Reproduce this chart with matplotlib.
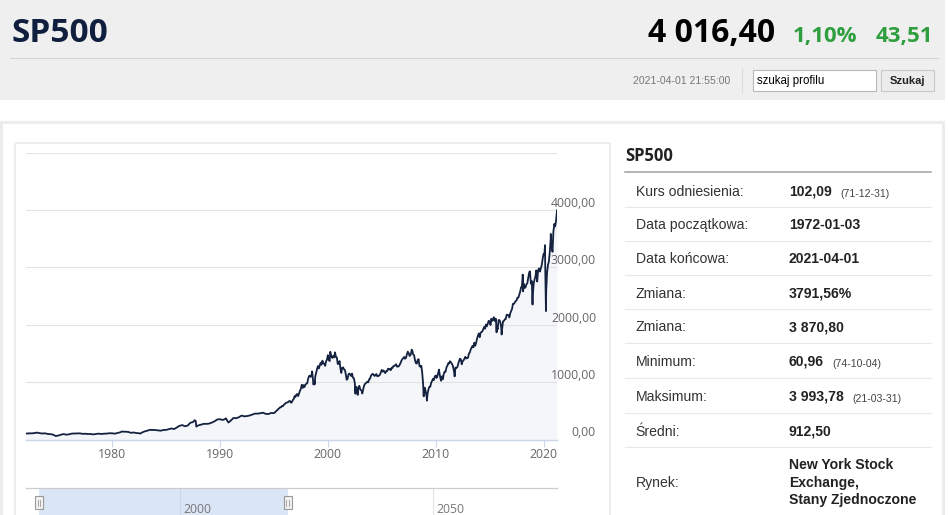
import numpy as np
import pandas as pd
import matplotlib
matplotlib.use("Agg")
import matplotlib.pyplot as plt
import matplotlib.dates as mdates
from matplotlib.patches import Rectangle

plt.rcParams['font.family'] = ['Open Sans', 'DejaVu Sans']

# --- dane ---
start_date, start_val = "1972-01-03", 101.7
end_date, end_val = "2021-04-01", 3993.8

# zamknięcia kwartalne 1972-1994
q_vals = [
    107.2, 107.1, 110.6, 118.1,
    111.5, 104.3, 108.4, 97.6,
    94.0, 86.0, 63.5, 68.6,
    83.4, 95.2, 83.9, 90.2,
    102.8, 104.3, 105.2, 107.5,
    98.4, 100.5, 96.5, 95.1,
    89.2, 95.5, 102.5, 96.1,
    101.6, 102.9, 109.3, 107.9,
    102.1, 114.2, 125.5, 135.8,
    136.0, 131.2, 116.2, 122.6,
    112.0, 109.6, 120.4, 140.6,
    153.0, 168.1, 166.1, 164.9,
    159.2, 153.2, 166.1, 167.2,
    180.7, 191.9, 182.1, 211.3,
    238.9, 250.8, 231.3, 242.2,
    291.7, 304.0, 321.8, 247.1,
    258.9, 273.5, 271.9, 277.7,
    294.9, 318.0, 349.2, 353.4,
    339.9, 358.0, 306.1, 330.2,
    375.2, 371.2, 387.9, 417.1,
    403.7, 408.1, 417.8, 435.7,
    451.7, 450.5, 458.9, 466.5,
    445.8, 444.3, 462.7, 459.3,
]

# zamknięcia miesięczne 1995-01 .. 2021-03
m_vals = [
    470.4, 487.4, 500.7, 514.7, 533.4, 544.8, 562.1, 561.9, 584.4, 581.5, 605.4, 615.9,
    636.0, 640.4, 645.5, 654.2, 669.1, 670.6, 639.9, 652.0, 687.3, 705.3, 757.0, 740.7,
    786.2, 790.8, 757.1, 801.3, 848.3, 885.1, 954.3, 899.5, 947.3, 914.6, 955.4, 970.4,
    980.3, 1049.3, 1101.8, 1111.8, 1090.8, 1133.8, 1120.7, 957.3, 1017.0, 1098.7, 1163.6, 1229.2,
    1279.6, 1238.3, 1286.4, 1335.2, 1301.8, 1372.7, 1328.7, 1320.4, 1282.7, 1362.9, 1388.9, 1469.3,
    1394.5, 1366.4, 1498.6, 1452.4, 1420.6, 1454.6, 1430.8, 1517.7, 1436.5, 1429.4, 1315.2, 1320.3,
    1366.0, 1239.9, 1160.3, 1249.5, 1255.8, 1224.4, 1211.2, 1133.6, 1040.9, 1059.8, 1139.5, 1148.1,
    1130.2, 1106.7, 1147.4, 1076.9, 1067.1, 989.8, 911.6, 916.1, 815.3, 885.8, 936.3, 879.8,
    855.7, 841.2, 848.2, 916.9, 963.6, 974.5, 990.3, 1008.0, 996.0, 1050.7, 1058.2, 1111.9,
    1131.1, 1144.9, 1126.2, 1107.3, 1120.7, 1140.8, 1101.7, 1104.2, 1114.6, 1130.2, 1173.8, 1211.9,
    1181.3, 1203.6, 1180.6, 1156.9, 1191.5, 1191.3, 1234.2, 1220.3, 1228.8, 1207.0, 1249.5, 1248.3,
    1280.1, 1280.7, 1294.8, 1310.6, 1270.1, 1270.2, 1276.7, 1303.8, 1335.9, 1377.9, 1400.6, 1418.3,
    1438.2, 1406.8, 1420.9, 1482.4, 1530.6, 1503.4, 1455.3, 1474.0, 1526.8, 1549.4, 1481.1, 1468.4,
    1378.6, 1330.6, 1322.7, 1385.6, 1400.4, 1280.0, 1267.4, 1282.8, 1166.4, 968.8, 896.2, 903.3,
    825.9, 735.1, 797.9, 872.8, 919.1, 919.3, 987.5, 1020.6, 1057.1, 1036.2, 1095.6, 1115.1,
    1073.9, 1104.5, 1169.4, 1186.7, 1089.4, 1030.7, 1101.6, 1049.3, 1141.2, 1183.3, 1180.6, 1257.6,
    1286.1, 1327.2, 1325.8, 1363.6, 1345.2, 1320.6, 1292.3, 1218.9, 1131.4, 1253.3, 1246.9, 1257.6,
    1312.4, 1365.7, 1408.5, 1397.9, 1310.3, 1362.2, 1379.3, 1406.6, 1440.7, 1412.2, 1416.2, 1426.2,
    1498.1, 1514.7, 1569.2, 1597.6, 1630.7, 1606.3, 1685.7, 1633.0, 1681.6, 1756.5, 1805.8, 1848.4,
    1782.6, 1859.5, 1872.3, 1884.0, 1923.6, 1960.2, 1930.7, 2003.4, 1972.3, 2018.1, 2067.6, 2058.9,
    1995.0, 2104.5, 2067.9, 2085.5, 2107.4, 2063.1, 2103.8, 1972.2, 1920.0, 2079.4, 2080.4, 2043.9,
    1940.2, 1932.2, 2059.7, 2065.3, 2097.0, 2098.9, 2173.6, 2171.0, 2168.3, 2126.2, 2198.8, 2238.8,
    2278.9, 2363.6, 2362.7, 2384.2, 2411.8, 2423.4, 2470.3, 2471.7, 2519.4, 2575.3, 2647.6, 2673.6,
    2823.8, 2713.8, 2640.9, 2648.1, 2705.3, 2718.4, 2816.3, 2901.5, 2914.0, 2711.7, 2760.2, 2506.9,
    2704.1, 2784.5, 2834.4, 2945.8, 2752.1, 2941.8, 2980.4, 2926.5, 2976.7, 3037.6, 3141.0, 3230.8,
    3225.5, 2954.2, 2584.6, 2912.4, 3044.3, 3100.3, 3271.1, 3500.3, 3363.0, 3270.0, 3621.6, 3756.1,
    3714.2, 3811.2, 3972.9,
]

# szczyty i dołki w ciągu miesiąca
ext_dates = ["1973-01-11", "1974-10-04", "1980-11-28", "1982-08-12", "1987-08-25",
             "1987-10-19", "1990-07-16", "1990-10-11", "1998-07-17", "1998-10-08",
             "2000-03-24", "2002-07-23", "2002-10-09", "2003-03-11", "2007-10-09",
             "2008-11-20", "2009-03-09", "2010-04-23", "2010-07-02", "2011-10-03",
             "2015-05-21", "2015-08-25", "2016-02-11", "2018-01-26", "2018-02-08",
             "2018-09-20", "2018-12-24", "2020-02-19", "2020-03-23", "2020-09-02"]
ext_vals = [120.2, 61.0, 140.5, 102.4, 336.8,
            224.8, 369.0, 295.5, 1186.8, 959.4,
            1527.5, 797.7, 776.8, 800.7, 1565.2,
            752.4, 676.5, 1217.3, 1022.6, 1099.2,
            2130.8, 1867.6, 1829.1, 2872.9, 2581.0,
            2930.8, 2351.1, 3386.2, 2237.4, 3580.8]

x_years = [1980, 1990, 2000, 2010, 2020]
y_levels = [0, 1000, 2000, 3000, 4000]
nav_years = [2000, 2050]

tab_labels = ["Kurs odniesienia:", "Data początkowa:", "Data końcowa:", "Zmiana:", "Zmiana:",
              "Minimum:", "Maksimum:", "Średni:", "Rynek:"]
tab_values = ["102,09", "1972-01-03", "2021-04-01", "3791,56%", "3 870,80",
              "60,96", "3 993,78", "912,50", "New York Stock\nExchange,\nStany Zjednoczone"]
tab_notes = ["(71-12-31)", "", "", "", "", "(74-10-04)", "(21-03-31)", "", ""]

s = pd.concat([
    pd.Series([start_val], index=[pd.Timestamp(start_date)]),
    pd.Series(q_vals, index=pd.date_range("1972-03-31", periods=len(q_vals), freq="QE")),
    pd.Series(m_vals, index=pd.date_range("1995-01-31", periods=len(m_vals), freq="ME")),
    pd.Series(ext_vals, index=pd.to_datetime(ext_dates)),
    pd.Series([end_val], index=[pd.Timestamp(end_date)]),
]).sort_index()

W, H = 948, 515
fig = plt.figure(figsize=(W / 100, H / 100), dpi=100)
fig.patch.set_facecolor("white")

# tło strony w pikselach
bg = fig.add_axes([0, 0, 1, 1])
bg.set_xlim(0, W)
bg.set_ylim(H, 0)
bg.axis("off")

arial = ["Liberation Sans", "DejaVu Sans"]

bg.add_patch(Rectangle((0, 0), 945, 100, fc="#efefef", lw=0))
bg.plot([10, 938], [58, 58], color="#d4d4d4", lw=0.8)
bg.text(12, 42, "SP500", fontsize=24, fontweight="bold", color="#0f1f3d", va="baseline")
bg.text(775, 42, "4 016,40", fontsize=23, fontweight="bold", color="black", ha="right", va="baseline")
bg.text(793, 42, "1,10%", fontsize=16, fontweight="bold", color="#2e9e3e", va="baseline")
bg.text(933, 42, "43,51", fontsize=16, fontweight="bold", color="#2e9e3e", ha="right", va="baseline")

bg.text(730, 84.3, "2021-04-01 21:55:00", fontsize=7.6, color="#777777", ha="right", va="baseline",
        family=arial)
bg.plot([742, 742], [68, 92], color="#dcdcdc", lw=0.8)
bg.add_patch(Rectangle((753.5, 69.5), 123, 21, fc="white", ec="#b8b8b8", lw=0.8))
bg.text(757.5, 84, "szukaj profilu", fontsize=8.3, color="black", va="baseline", family=arial)
bg.add_patch(Rectangle((881, 69.5), 53, 21, fc="#ececec", ec="#c8c8c8", lw=0.8))
bg.text(907.5, 84, "Szukaj", fontsize=8, fontweight="bold", color="#222222", ha="center",
        va="baseline", family=arial)

# karta i ramka wykresu
bg.add_patch(Rectangle((1.5, 121.5), 942, 420, fc="white", ec="#ececec", lw=2.2))
bg.add_patch(Rectangle((15.5, 142.5), 594.5, 400, fc="none", ec="#ededed", lw=1.4))

# tabela po prawej
bg.text(625, 160.7, "SP500", fontsize=12, fontweight="bold", color="#222222", va="baseline")
bg.plot([625, 931], [171.5, 171.5], color="#a0a0a0", lw=1.1)
row_base = [195.7, 229.3, 263.3, 297.7, 331, 365.7, 400.7, 435.7, 486.7]
for sep in [207.3, 241.3, 275.3, 309.3, 343.3, 377.7, 412.7, 447.3]:
    bg.plot([625, 931], [sep, sep], color="#e9e9e9", lw=0.8)
for lab, val, note, yb in zip(tab_labels, tab_values, tab_notes, row_base):
    bg.text(635.7, yb, lab, fontsize=10.1, color="#333333", va="baseline", family=arial)
    lines = val.split("\n")
    y0 = yb - 17.3 * (len(lines) - 1) / 2
    for i, ln in enumerate(lines):
        t = bg.text(789, y0 + 17.3 * i, ln, fontsize=10.1, fontweight="bold", color="#222222",
                    va="baseline", family=arial)
    if note:
        bg.annotate(note, xy=(1, 0), xycoords=t, xytext=(6, 0), textcoords="offset points",
                    fontsize=7.6, color="#444444", va="bottom", family=arial)

# główny wykres
x0, x1 = 26, 557
ax = fig.add_axes([x0 / W, 1 - 439.5 / H, (x1 - x0) / W, 287 / H])
ax.set_facecolor("none")
ax.fill_between(s.index, s.values, 0, color="#f4f6f9", lw=0, zorder=1)
for v in [1000, 2000, 3000, 4000, 5000]:
    ax.axhline(v, color="#e3e3e3", lw=0.8, zorder=1.5)
ax.plot(s.index, s.values, color="#14223f", lw=1.3, zorder=2)
ax.set_xlim(pd.Timestamp(start_date), pd.Timestamp(end_date))
ax.set_ylim(0, 5000)
for sp in ["top", "left", "right"]:
    ax.spines[sp].set_visible(False)
ax.spines["bottom"].set_color("#ccd6eb")
ax.spines["bottom"].set_linewidth(1)
ax.set_yticks([])
ax.set_xticks([pd.Timestamp(f"{y}-01-01") for y in x_years])
ax.set_xticklabels([str(y) for y in x_years])
ax.tick_params(axis="x", length=5, width=0.8, color="#ccd6eb", labelsize=8.8, labelcolor="#666666", pad=1)
for v in y_levels:
    ax.text((596 - x0) / (x1 - x0), v, f"{v},00", transform=ax.get_yaxis_transform(),
            ha="right", va="bottom", fontsize=8.8, color="#666666", clip_on=False)

# nawigator
nav = fig.add_axes([x0 / W, 0, (x1 - x0) / W, 27 / H])
nav.set_xlim(pd.Timestamp("1969-06-13"), pd.Timestamp("2074-08-01"))
nav.set_ylim(0, 1)
nav.axvspan(pd.Timestamp(start_date), pd.Timestamp(end_date), color="#dae6f6", lw=0, zorder=0)
for y in nav_years:
    d = pd.Timestamp(f"{y}-01-01")
    nav.axvline(d, color="#e3e3e3" if y > 2021 else "#c9d8ec", lw=0.8, zorder=1)
    nav.annotate(str(y), xy=(d, 0), xycoords=("data", "axes fraction"), xytext=(2.2, 1.6),
                 textcoords="offset points", fontsize=8.8, color="#777777", va="baseline")
for sp in ["bottom", "left", "right"]:
    nav.spines[sp].set_visible(False)
nav.spines["top"].set_color("#cccccc")
nav.spines["top"].set_linewidth(0.9)
nav.set_xticks([])
nav.set_yticks([])

# uchwyty nawigatora na wierzchu
fg = fig.add_axes([0, 0, 1, 1])
fg.set_xlim(0, W)
fg.set_ylim(H, 0)
fg.axis("off")
fg.patch.set_alpha(0)
for d in [start_date, end_date]:
    px = nav.transData.transform((mdates.date2num(pd.Timestamp(d)), 0))[0]
    fg.add_patch(Rectangle((px - 4, 496), 8, 13, fc="#f2f2f2", ec="#999999", lw=0.8))
    for dx in (-1.2, 1.2):
        fg.plot([px + dx, px + dx], [499.5, 505.5], color="#999999", lw=0.6)

fig.savefig("out.png", dpi=100, facecolor="white")
